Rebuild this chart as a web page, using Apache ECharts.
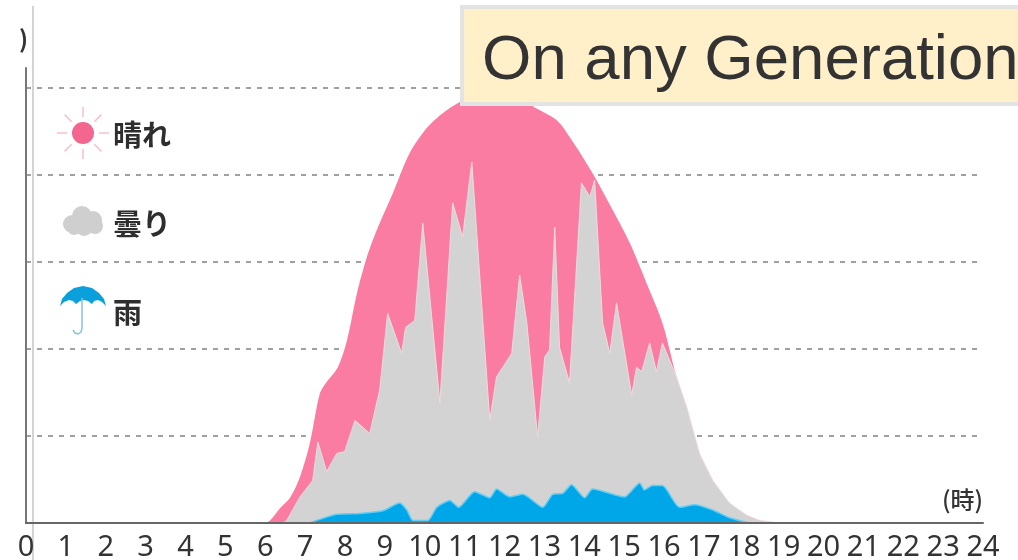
<!DOCTYPE html>
<html>
<head>
<meta charset="utf-8">
<style>html,body{margin:0;padding:0;background:#fff}#c{width:1018px;height:560px}</style>
<script src="https://cdn.jsdelivr.net/npm/echarts@6/dist/echarts.min.js"></script>
</head>
<body>
<div id="c"></div>
<script>
const sunnyHours = [6,6.12,6.37,6.62,6.87,7.12,7.37,7.54,7.82,8.05,8.30,8.55,8.80,9.20,9.62,10.05,10.45,10.88,11.38,11.88,12.38,12.71,13.31,13.63,14.21,14.71,15.14,15.56,15.96,16.32,16.57,16.89,17.22,17.64,18.07,18.40,18.90];
const sunnyValues = [0,0.03,0.17,0.29,0.53,0.92,1.49,1.62,1.79,2.10,2.64,3.06,3.37,3.79,4.25,4.54,4.71,4.84,4.93,4.95,4.90,4.79,4.63,4.44,4.02,3.60,3.22,2.76,2.30,1.67,1.33,0.80,0.49,0.23,0.09,0.03,0];
const cloudyHours = [6.45,6.54,6.87,7.19,7.32,7.54,7.79,7.99,8.25,8.62,8.87,9.07,9.42,9.52,9.75,9.95,10.38,10.70,10.95,11.18,11.63,11.80,12.18,12.38,12.56,12.83,13.01,13.13,13.26,13.38,13.63,13.93,14.14,14.26,14.46,14.64,14.81,15.19,15.31,15.44,15.64,15.81,15.96,16.32,16.57,16.89,17.22,17.64,18.07,18.40,18.90];
const cloudyValues = [0,0.03,0.30,0.49,0.93,0.59,0.80,0.82,1.18,1.03,1.53,2.41,1.95,2.25,2.33,3.45,1.38,3.68,3.29,4.15,1.18,1.68,1.95,2.85,2.30,0.99,1.91,1.99,3.40,2.02,1.61,3.91,3.75,3.94,2.30,1.95,2.53,1.47,1.79,1.74,2.07,1.74,2.07,1.67,1.33,0.80,0.49,0.23,0.09,0.03,0];
const rainyHours = [7.1,7.29,7.79,8.37,8.95,9.37,9.55,9.70,10.08,10.30,10.63,10.85,11.25,11.63,11.80,12.13,12.46,12.96,13.21,13.46,13.68,14.01,14.21,15.01,15.39,15.51,15.71,15.96,16.39,16.77,17.22,17.64,18.15];
const rainyValues = [0,0.03,0.10,0.11,0.14,0.23,0.15,0.03,0.03,0.18,0.26,0.18,0.36,0.29,0.39,0.30,0.33,0.18,0.33,0.34,0.44,0.29,0.39,0.30,0.46,0.38,0.43,0.43,0.18,0.21,0.15,0.06,0];
const legendLabels = ['晴れ','曇り','雨'];
const titleText = 'On any Generation';
const unitText = '(時)';

const zip = (a, b) => a.map((h, i) => [h, b[i]]);
const cjk = '"Noto Sans CJK JP","Noto Sans",sans-serif';
const rays = [];
for (let i = 0; i < 8; i++) {
  const t = i * Math.PI / 4;
  rays.push({type:'line', z:20, shape:{x1:83+16*Math.cos(t), y1:133+16*Math.sin(t), x2:83+26*Math.cos(t), y2:133+26*Math.sin(t)}, style:{stroke:'#f5c0cd', lineWidth:1.5}});
}
const puffs = [[72,224,9],[82,216,10],[93,220,9],[84,227,9],[95,226,8],[74,229,6]].map(p => ({type:'circle', z:20, shape:{cx:p[0], cy:p[1], r:p[2]}, style:{fill:'#cfcfcf'}}));
const legendText = (s, y) => ({type:'text', z:20, x:113, y:y, style:{text:s, font:'bold 29px '+cjk, fill:'#2e2e2e', textVerticalAlign:'middle'}});
const canopy = [[60,306],[62,299],[67,293],[74,288],[83,286],[92,288],[99,293],[104,299],[106,306],[102,302],[98,300],[94,301],[92,304],[88,301],[84,300],[80,301],[76,304],[73,301],[69,300],[64,302]];
const shaft = [[82,298],[82,328],[81,332],[78,334],[75,333],[73,330]];

const chart = echarts.init(document.getElementById('c'), null, {renderer:'canvas'});
chart.setOption({
  animation:false,
  backgroundColor:'#fff',
  grid:{left:26, right:35, top:68, bottom:37, outerBoundsMode:'none'},
  xAxis:{type:'value', min:0, max:24, interval:1, z:10,
    axisLine:{lineStyle:{color:'#666', width:2}},
    axisTick:{show:false}, splitLine:{show:false},
    axisLabel:{margin:10, fontSize:29, color:'#333', fontFamily:'"Liberation Sans Narrow","Noto Sans",sans-serif', showMinLabel:true, showMaxLabel:true, hideOverlap:false}},
  yAxis:{type:'value', min:0, max:5.23, interval:1, offset:2,
    axisLine:{show:true, lineStyle:{color:'#777', width:2}},
    axisTick:{show:false}, axisLabel:{show:false},
    splitLine:{show:true, showMaxLine:false, lineStyle:{color:'#a0a0a0', type:[5,6], width:2}}},
  series:[
    {type:'line', name:legendLabels[0], data:zip(sunnyHours,sunnyValues), showSymbol:false, smooth:0.3, z:3, lineStyle:{width:0}, areaStyle:{color:'#fb7ca2', opacity:1}},
    {type:'line', name:legendLabels[1], data:zip(cloudyHours,cloudyValues), showSymbol:false, z:4, lineStyle:{width:1, color:'#efdade'}, areaStyle:{color:'#d3d3d3', opacity:1}},
    {type:'line', name:legendLabels[2], data:zip(rainyHours,rainyValues), showSymbol:false, smooth:0.2, z:5, lineStyle:{width:1.5, color:'#62cdf4'}, areaStyle:{color:'#00a7e8', opacity:1}}
  ],
  graphic:[
    {type:'line', z:1, shape:{x1:33, y1:6, x2:33, y2:560}, style:{stroke:'#d4d4d4', lineWidth:2}},
    {type:'text', z:20, x:19, y:39, style:{text:')', font:'bold 24px '+cjk, fill:'#333', textVerticalAlign:'middle'}},
    ...rays,
    {type:'circle', z:20, shape:{cx:83, cy:133, r:11}, style:{fill:'#f2668f'}},
    ...puffs,
    {type:'polygon', z:20, shape:{points:canopy}, style:{fill:'#0aa0dc'}},
    {type:'polyline', z:20, shape:{points:shaft}, style:{fill:'none', stroke:'#86c4da', lineWidth:1.5}},
    legendText(legendLabels[0], 135),
    legendText(legendLabels[1], 224),
    legendText(legendLabels[2], 313),
    {type:'text', z:20, x:942, y:500, style:{text:unitText, font:'500 24px '+cjk, fill:'#333', textVerticalAlign:'middle'}},
    {type:'rect', z:30, shape:{x:462, y:7, width:560, height:97}, style:{fill:'#fff0c9', stroke:'#e3e3e3', lineWidth:4}},
    {type:'text', z:31, x:482, y:61, style:{text:titleText, font:'63.5px "Liberation Sans",Arial,sans-serif', fill:'#333', textVerticalAlign:'middle'}}
  ]
});
</script>
</body>
</html>
